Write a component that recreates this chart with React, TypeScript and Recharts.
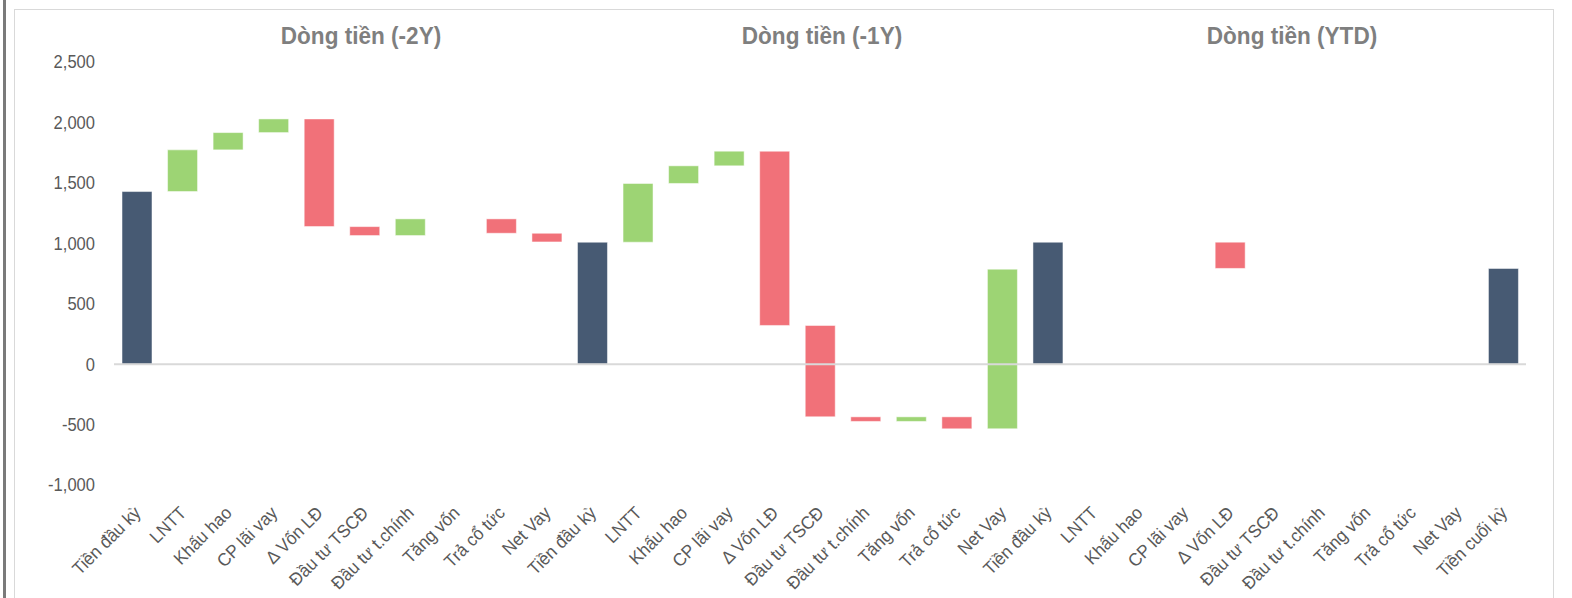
import { BarChart, Bar, XAxis, YAxis, Cell, ReferenceLine } from "recharts";

// 31 categories: -2Y block, -1Y block, YTD block
const labels = [
  "Tiền đầu kỳ", "LNTT", "Khấu hao", "CP lãi vay", "Δ Vốn LĐ", "Đầu tư TSCĐ", "Đầu tư t.chính", "Tăng vốn", "Trả cổ tức", "Net Vay",
  "Tiền đầu kỳ", "LNTT", "Khấu hao", "CP lãi vay", "Δ Vốn LĐ", "Đầu tư TSCĐ", "Đầu tư t.chính", "Tăng vốn", "Trả cổ tức", "Net Vay",
  "Tiền đầu kỳ", "LNTT", "Khấu hao", "CP lãi vay", "Δ Vốn LĐ", "Đầu tư TSCĐ", "Đầu tư t.chính", "Tăng vốn", "Trả cổ tức", "Net Vay",
  "Tiền cuối kỳ",
];

// "total" = balance bar from zero, "delta" = floating change from the previous level
const kinds = [
  "total", "delta", "delta", "delta", "delta", "delta", "delta", "delta", "delta", "delta",
  "total", "delta", "delta", "delta", "delta", "delta", "delta", "delta", "delta", "delta",
  "total", "delta", "delta", "delta", "delta", "delta", "delta", "delta", "delta", "delta",
  "total",
];

const values = [
  1428, 345, 143, 113, -891, -74, 138, 0, -119, -72,
  1009, 486, 146, 121, -1442, -756, -38, 38, -99, 1321,
  1009, 0, 0, 0, -217, 0, 0, 0, 0, 0,
  792,
];

const titles = ["Dòng tiền (-2Y)", "Dòng tiền (-1Y)", "Dòng tiền (YTD)"];
const yTicks = [-1000, -500, 0, 500, 1000, 1500, 2000, 2500];

const NAVY = "#475a73";
const GREEN = "#9dd474";
const RED = "#f17179";
const FONT = "'Liberation Sans', Arial, sans-serif";

let level = 0;
const data = labels.map((name, i) => {
  const v = values[i];
  if (kinds[i] === "total") {
    level = v;
    return { name, range: [0, v], color: NAVY };
  }
  const start = level;
  level = start + v;
  if (v === 0) return { name, range: null, color: GREEN };
  return {
    name,
    range: [Math.min(start, level), Math.max(start, level)],
    color: v > 0 ? GREEN : RED,
  };
});

// narrow-looking text: squeeze regular font horizontally
function XTick({ x, y, payload }: any) {
  return (
    <g transform={`translate(${x + 5},${y + 21})`}>
      <text
        textAnchor="end"
        transform="rotate(-45) scale(0.95,1)"
        fill="#595959"
        fontSize={18}
        fontFamily={FONT}
      >
        {payload.value}
      </text>
    </g>
  );
}

function YTick({ x, y, payload }: any) {
  return (
    <g transform={`translate(${x},${y})`}>
      <text
        textAnchor="end"
        dy="0.355em"
        transform="scale(0.92,1)"
        fill="#595959"
        fontSize={18}
        fontFamily={FONT}
      >
        {payload.value.toLocaleString("en-US")}
      </text>
    </g>
  );
}

const titleX = [361, 822, 1292];

export default function App() {
  return (
    <div style={{ position: "absolute", left: 0, top: 0, width: 1572, height: 598, background: "#fff", overflow: "hidden" }}>
      <div style={{ position: "absolute", left: 3, top: 0, width: 3, height: 598, background: "#7a7a7a" }} />
      <div
        style={{
          position: "absolute",
          left: 14,
          top: 9,
          width: 1540,
          height: 620,
          border: "1.5px solid #d9d9d9",
          boxSizing: "border-box",
        }}
      />
      <div style={{ position: "absolute", left: 0, top: 0 }}>
        <BarChart
          width={1572}
          height={598}
          data={data}
          margin={{ top: 62, right: 46, bottom: 0, left: 0 }}
          barSize={30}
        >
          <YAxis
            width={114}
            domain={[-1000, 2500]}
            ticks={yTicks}
            interval={0}
            axisLine={false}
            tickLine={false}
            tickSize={0}
            tickMargin={19}
            tick={<YTick />}
          />
          <XAxis
            dataKey="name"
            height={113}
            interval={0}
            axisLine={false}
            tickLine={false}
            tick={<XTick />}
          />
          <Bar dataKey="range" isAnimationActive={false} stroke="#ffffff" strokeOpacity={0.5} strokeWidth={1}>
            {data.map((d, i) => (
              <Cell key={i} fill={d.color} />
            ))}
          </Bar>
          <ReferenceLine y={0} stroke="#d9d9d9" strokeWidth={2} />
        </BarChart>
      </div>
      {titles.map((t, i) => (
        <div
          key={t}
          style={{
            position: "absolute",
            left: titleX[i] - 120,
            width: 240,
            top: 22,
            textAlign: "center",
            color: "#7f7f7f",
            fontWeight: "bold",
            fontSize: 24,
            fontFamily: FONT,
            transform: "scaleX(0.94)",
          }}
        >
          {t}
        </div>
      ))}
    </div>
  );
}
